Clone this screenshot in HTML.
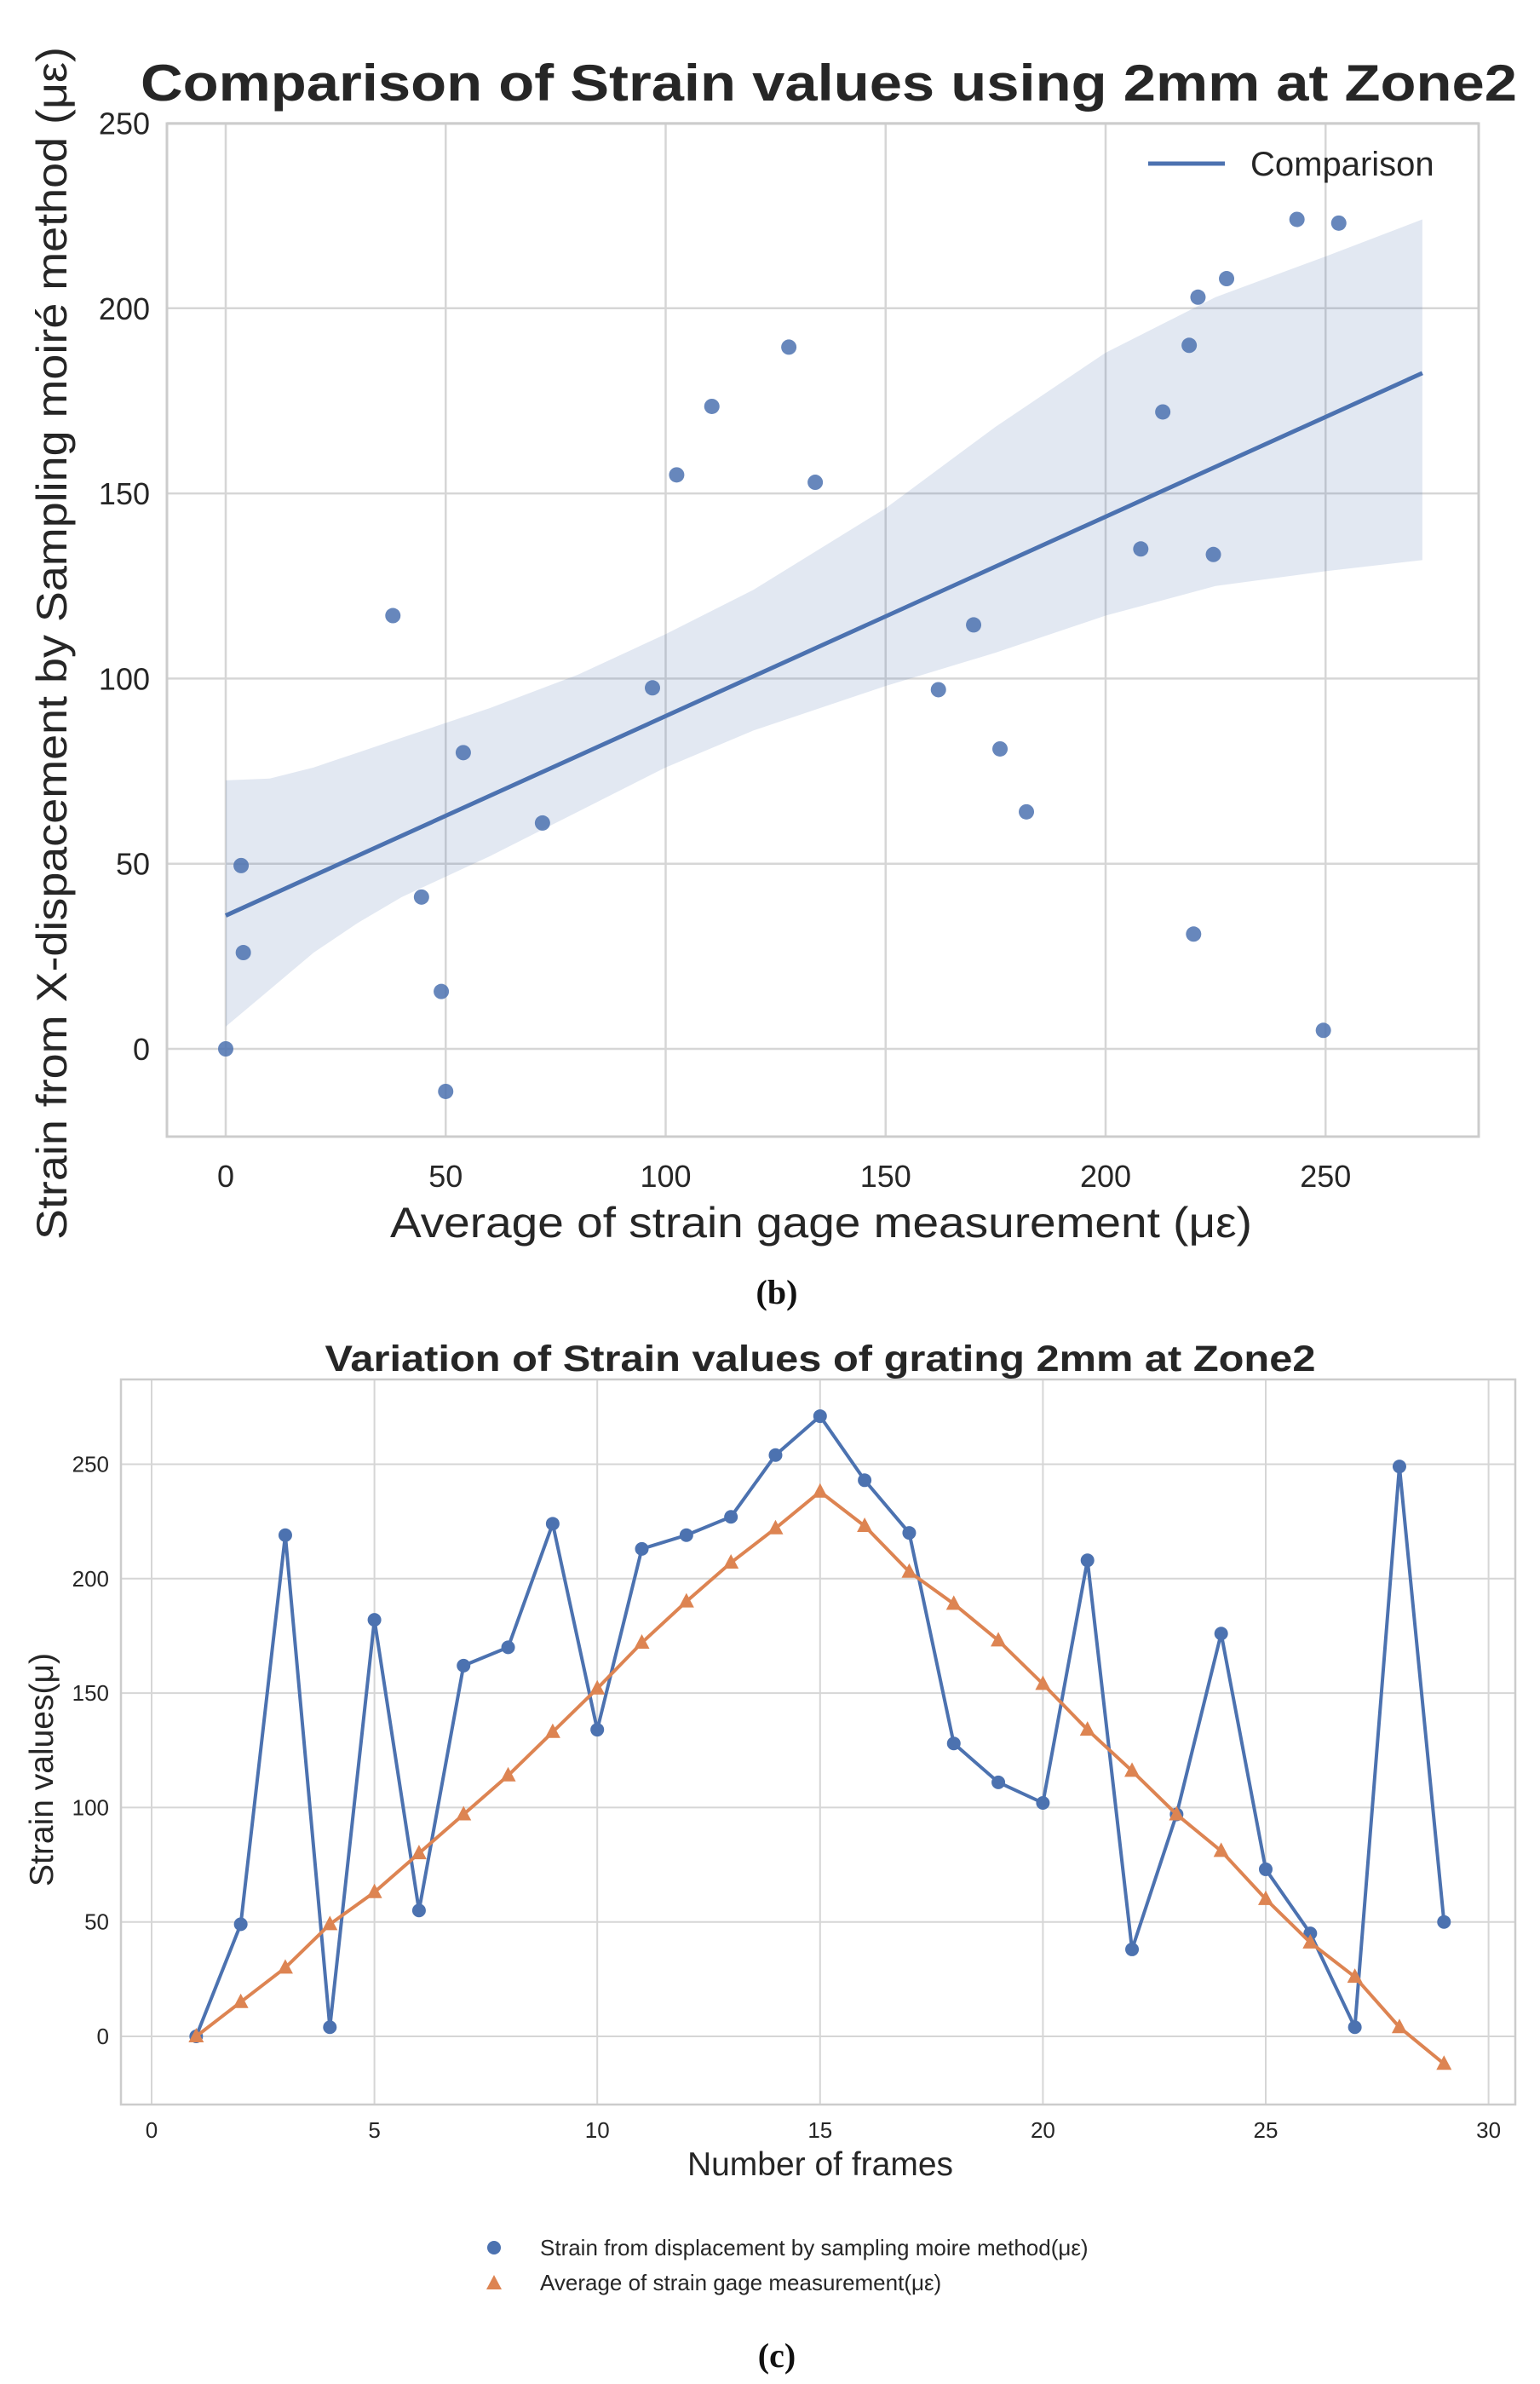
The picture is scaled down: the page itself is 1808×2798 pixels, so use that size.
<!DOCTYPE html>
<html><head><meta charset="utf-8"><style>
html,body{margin:0;padding:0;background:#fff;}
svg{display:block;font-family:"Liberation Sans",sans-serif;}
</style></head><body>
<svg id="svg" width="1808" height="2798" viewBox="0 0 1808 2798" xmlns="http://www.w3.org/2000/svg">
<g id="top"></g>
<g id="bot"></g>
<text x="912" y="1530" text-anchor="middle" font-family="Liberation Serif,serif" font-weight="bold" font-size="40" fill="#111">(b)</text>
<text x="912" y="2778" text-anchor="middle" font-family="Liberation Serif,serif" font-weight="bold" font-size="40" fill="#111">(c)</text>
</svg>
<script>
// ---- top chart data ----
const scatterX = [0,3.5,4,38,44.5,49,50,54,72,97,102.5,110.5,128,134,162,170,176,182,208,213,219,220,221,224.5,227.5,243.5,249.5,253];
const scatterY = [0,49.5,26,117,41,15.5,-11.5,80,61,97.5,155,173.5,189.5,153,97,114.5,81,64,135,172,190,31,203,133.5,208,224,5,223];
const regX = [0,272];
const regY = [36,182.5];
const bandX = [0,10,20,30,40,60,80,100,120,150,175,200,225,250,272];
const bandUpper = [72.5,73,76,80,84,92,101,112,124,146,168,188,203,214,224];
const bandLower = [6,16,26,34,41,52,64,76,86,98,107,117,125,129,132];
const topXTicks = [0,50,100,150,200,250];
const topYTicks = [0,50,100,150,200,250];
// ---- bottom chart data ----
const frames = [1,2,3,4,5,6,7,8,9,10,11,12,13,14,15,16,17,18,19,20,21,22,23,24,25,26,27,28,29];
const moireVals = [0,49,219,4,182,55,162,170,224,134,213,219,227,254,271,243,220,128,111,102,208,38,97,176,73,45,4,249,50];
const gageVals = [0,15,30,49,63,80,97,114,133,152,172,190,207,222,238,223,203,189,173,154,134,116,97,81,60,41,26,4,-12];
const botXTicks = [0,5,10,15,20,25,30];
const botYTicks = [0,50,100,150,200,250];

const NS="http://www.w3.org/2000/svg";
function mk(parent,tag,attrs,text){const e=document.createElementNS(NS,tag);for(const k in attrs)e.setAttribute(k,attrs[k]);if(text!==undefined)e.textContent=text;parent.appendChild(e);return e;}
const BLUE="#4c72b0",ORANGE="#dd8452",GRID="#d6d6d6",TXT="#262626";

// ===== TOP =====
(function(){
const g=document.getElementById('top');
const L=196,R=1736,T=145,B=1334;
const sx=v=>265+v*5.165, sy=v=>1231-v*4.346;
for(const t of topXTicks){
 const l=mk(g,'line',{x1:sx(t),x2:sx(t),y1:T,y2:B,stroke:GRID,'stroke-width':2.5});
 
 
 const tx=mk(g,'text',{x:sx(t),y:1393,'text-anchor':'middle','font-size':36,fill:TXT},t);
 
 
}
for(const t of topYTicks){
 const l=mk(g,'line',{x1:L,x2:R,y1:sy(t),y2:sy(t),stroke:GRID,'stroke-width':2.5});
 
 
 const tx=mk(g,'text',{x:176,y:sy(t)+13,'text-anchor':'end','font-size':36,fill:TXT},t);
 
 
}
const fr=mk(g,'rect',{x:L,y:T,width:R-L,height:B-T,fill:'none',stroke:'#cccccc','stroke-width':3});


let d='';
bandX.forEach((x,i)=>{d+=(i?'L':'M')+sx(x)+','+sy(bandUpper[i]);});
for(let i=bandX.length-1;i>=0;i--)d+='L'+sx(bandX[i])+','+sy(bandLower[i]);
const band=mk(g,'path',{d:d+'Z',fill:BLUE,'fill-opacity':0.16});


scatterX.forEach((x,i)=>{
 const c=mk(g,'circle',{cx:sx(x),cy:sy(scatterY[i]),r:9,fill:BLUE,'fill-opacity':0.85});
 
 
});
const rl=mk(g,'line',{x1:sx(regX[0]),y1:sy(regY[0]),x2:sx(regX[1]),y2:sy(regY[1]),stroke:BLUE,'stroke-width':5});


const ll=mk(g,'line',{x1:1348,x2:1438,y1:192,y2:192,stroke:BLUE,'stroke-width':5});


const lt=mk(g,'text',{x:1468,y:206,'font-size':40,fill:TXT},'Comparison');


const ti=mk(g,'text',{x:973,y:118,'text-anchor':'middle','font-size':60,'font-weight':'bold',fill:TXT,textLength:1616,lengthAdjust:'spacingAndGlyphs'},'Comparison of Strain values using 2mm at Zone2');


const xl=mk(g,'text',{x:964,y:1452,'text-anchor':'middle','font-size':50,fill:TXT,textLength:1012,lengthAdjust:'spacingAndGlyphs'},'Average of strain gage measurement (με)');


const yl=mk(g,'text',{x:0,y:0,'text-anchor':'middle','font-size':50,fill:TXT,textLength:1400,lengthAdjust:'spacingAndGlyphs',transform:'translate(78,755) rotate(-90)'},'Strain from X-dispacement by Sampling moiré method (με)');


})();

// ===== BOTTOM =====
(function(){
const g=document.getElementById('bot');
const L=142,R=1779,T=1619,B=2470;
const sx=v=>178+v*52.32, sy=v=>2390-v*2.686;
for(const t of botXTicks){
 const l=mk(g,'line',{x1:sx(t),x2:sx(t),y1:T,y2:B,stroke:GRID,'stroke-width':2});
 
 
 const tx=mk(g,'text',{x:sx(t),y:2509,'text-anchor':'middle','font-size':26,fill:TXT},t);
 
 
}
for(const t of botYTicks){
 const l=mk(g,'line',{x1:L,x2:R,y1:sy(t),y2:sy(t),stroke:GRID,'stroke-width':2});
 
 
 const tx=mk(g,'text',{x:128,y:sy(t)+9,'text-anchor':'end','font-size':26,fill:TXT},t);
 
 
}
const fr=mk(g,'rect',{x:L,y:T,width:R-L,height:B-T,fill:'none',stroke:'#cccccc','stroke-width':2.5});


const bp=mk(g,'polyline',{points:frames.map((f,i)=>sx(f)+','+sy(moireVals[i])).join(' '),fill:'none',stroke:BLUE,'stroke-width':4});


frames.forEach((f,i)=>{
 const c=mk(g,'circle',{cx:sx(f),cy:sy(moireVals[i]),r:8,fill:BLUE});
 
 
});
const op=mk(g,'polyline',{points:frames.map((f,i)=>sx(f)+','+sy(gageVals[i])).join(' '),fill:'none',stroke:ORANGE,'stroke-width':4});


frames.forEach((f,i)=>{
 const x=sx(f),y=sy(gageVals[i]);
 const p=mk(g,'polygon',{points:`${x},${y-10} ${x-9},${y+7} ${x+9},${y+7}`,fill:ORANGE});
 
 
});
const ti=mk(g,'text',{x:963,y:1609,'text-anchor':'middle','font-size':43,'font-weight':'bold',fill:TXT,textLength:1163,lengthAdjust:'spacingAndGlyphs'},'Variation of Strain values of grating 2mm at Zone2');


const xl=mk(g,'text',{x:963,y:2553,'text-anchor':'middle','font-size':39,fill:TXT},'Number of frames');


const yl=mk(g,'text',{x:0,y:0,'text-anchor':'middle','font-size':39,fill:TXT,transform:'translate(62,2077) rotate(-90)'},'Strain values(μ)');


const c=mk(g,'circle',{cx:580,cy:2638,r:8,fill:BLUE});


const t1=mk(g,'text',{x:634,y:2647,'font-size':26,fill:TXT},'Strain from displacement by sampling moire method(με)');


const tr=mk(g,'polygon',{points:'580,2670 571,2687 589,2687',fill:ORANGE});


const t2=mk(g,'text',{x:634,y:2688,'font-size':26,fill:TXT},'Average of strain gage measurement(με)');


})();
</script>
</body></html>
